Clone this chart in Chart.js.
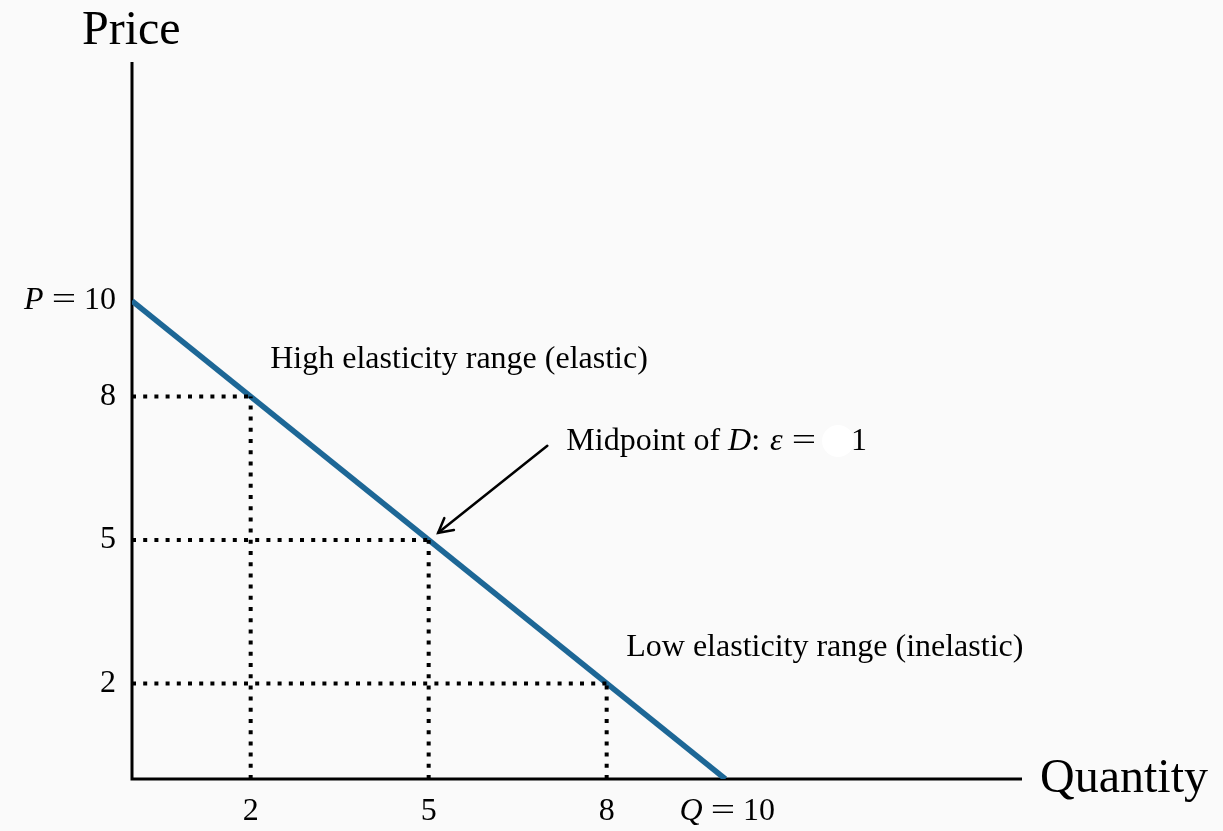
<!DOCTYPE html>
<html>
<head>
<meta charset="utf-8">
<script src="https://cdn.jsdelivr.net/npm/chart.js@4.4.1/dist/chart.umd.min.js"></script>
<style>
  html, body { margin: 0; padding: 0; background: #fafafa; }
  #wrap { width: 1223px; height: 831px; position: relative; }
</style>
</head>
<body>
<div id="wrap"><canvas id="c" width="1223" height="831"></canvas></div>
<script>
// Linear demand curve D: P = 10 - Q
const demandQ = [0, 10];
const demandP = [10, 0];

// Reference points marked on the curve
const markQ = [2, 5, 8];
const markP = [8, 5, 2];

// Axis tick labels
const xTickValues = [2, 5, 8, 10];
const xTickLabels = ['2', '5', '8', 'Q = 10'];
const yTickValues = [8, 5, 2, 10];
const yTickLabels = ['8', '5', '2', 'P = 10'];

const axisMax = 15;
const SERIF = '"Liberation Serif", "DejaVu Serif", serif';
const BLUE = '#1d6796';
const FS = 32;
const EQ_STRETCH = 1.35;   // wider math-style equals sign

// Dotted guides from each marked point down to the axes
const guideSets = [];
markQ.forEach((q, i) => {
  const p = markP[i];
  guideSets.push({ data: [{x: 0, y: p}, {x: q, y: p}] });
  guideSets.push({ data: [{x: q, y: 0}, {x: q, y: p}] });
});

const datasets = guideSets.map(g => ({
  data: g.data,
  showLine: true,
  borderColor: '#000',
  borderWidth: 4,
  borderDash: [4, 7.2],
  borderCapStyle: 'butt',
  pointRadius: 0,
  fill: false
}));
datasets.push({
  data: demandQ.map((q, i) => ({x: q, y: demandP[i]})),
  showLine: true,
  borderColor: BLUE,
  borderWidth: 5.5,
  pointRadius: 0,
  fill: false
});

// parts: [text, italic, gapAfter]; '=' is drawn horizontally stretched
function partWidth(ctx, t, it, size) {
  ctx.font = (it ? 'italic ' : '') + size + 'px ' + SERIF;
  const w = ctx.measureText(t).width;
  return t === '=' ? w * EQ_STRETCH : w;
}
function drawMath(ctx, parts, x, y, size) {
  let cx = x;
  parts.forEach(([t, it, gap]) => {
    const w = partWidth(ctx, t, it, size);
    if (t === '=') {
      ctx.save();
      ctx.translate(cx, y);
      ctx.scale(EQ_STRETCH, 1);
      ctx.fillText(t, 0, 0);
      ctx.restore();
    } else {
      ctx.fillText(t, cx, y);
    }
    cx += w + (gap || 0);
  });
  return cx;
}
function mathWidth(ctx, parts, size) {
  let w = 0;
  parts.forEach(([t, it, gap]) => { w += partWidth(ctx, t, it, size) + (gap || 0); });
  return w;
}
function labelParts(lab) {
  const m = lab.match(/^([PQ]) = (.*)$/);
  if (!m) return [[lab, false, 0]];
  return [[m[1], true, 8], ['=', false, 8], [m[2], false, 0]];
}

const axesPlugin = {
  id: 'axesAndNotes',
  beforeDatasetsDraw(chart) {
    const ctx = chart.ctx;
    const xs = chart.scales.x, ys = chart.scales.y;
    const x0 = xs.getPixelForValue(0), y0 = ys.getPixelForValue(0);
    const xEnd = xs.getPixelForValue(axisMax), yEnd = ys.getPixelForValue(axisMax);
    ctx.save();
    ctx.strokeStyle = '#000';
    ctx.lineWidth = 3;
    ctx.beginPath();
    ctx.moveTo(x0, yEnd);
    ctx.lineTo(x0, y0);
    ctx.lineTo(xEnd, y0);
    ctx.stroke();
    ctx.restore();
  },
  afterDatasetsDraw(chart) {
    const ctx = chart.ctx;
    const xs = chart.scales.x, ys = chart.scales.y;
    const x0 = xs.getPixelForValue(0), y0 = ys.getPixelForValue(0);
    ctx.save();
    ctx.fillStyle = '#000';
    ctx.textBaseline = 'middle';
    ctx.textAlign = 'left';

    // x tick labels
    xTickValues.forEach((v, i) => {
      const parts = labelParts(xTickLabels[i]);
      const px = xs.getPixelForValue(v);
      const w = mathWidth(ctx, parts, FS);
      drawMath(ctx, parts, px - w / 2 + (parts.length > 1 ? 2 : 0), y0 + 33, FS);
    });
    // y tick labels
    yTickValues.forEach((v, i) => {
      const parts = labelParts(yTickLabels[i]);
      const py = ys.getPixelForValue(v);
      const w = mathWidth(ctx, parts, FS);
      drawMath(ctx, parts, x0 - 16 - w, py, FS);
    });

    // axis titles
    ctx.font = '48px ' + SERIF;
    ctx.fillText('Price', 82, 31);
    ctx.fillText('Quantity', 1040, 779);

    // range notes
    ctx.font = FS + 'px ' + SERIF;
    ctx.fillText('High elasticity range (elastic)', xs.getPixelForValue(2.33), ys.getPixelForValue(8.77));
    ctx.fillText('Low elasticity range (inelastic)', xs.getPixelForValue(8.33), ys.getPixelForValue(2.74));

    // midpoint note
    const mx = xs.getPixelForValue(7.32), my = ys.getPixelForValue(7.05);
    const endX = drawMath(ctx, [['Midpoint of ', false, 0], ['D', true, 0], [': ', false, 2], ['\u03b5', true, 9], ['=', false, 0]], mx, my, FS);
    ctx.fillStyle = '#ffffff';
    ctx.beginPath();
    ctx.arc(endX + 22, my - 1, 16, 0, Math.PI * 2);
    ctx.fill();
    ctx.fillStyle = '#000';
    ctx.font = FS + 'px ' + SERIF;
    ctx.fillText('1', endX + 35, my);

    // arrow to the midpoint
    const ax1 = xs.getPixelForValue(7.0), ay1 = ys.getPixelForValue(6.97);
    const ax2 = xs.getPixelForValue(5.16), ay2 = ys.getPixelForValue(5.15);
    ctx.strokeStyle = '#000';
    ctx.lineWidth = 2.5;
    ctx.lineCap = 'round';
    ctx.beginPath();
    ctx.moveTo(ax1, ay1);
    ctx.lineTo(ax2, ay2);
    ctx.stroke();
    const ang = Math.atan2(ay2 - ay1, ax2 - ax1);
    const hl = 16, ha = 0.5;
    ctx.beginPath();
    ctx.moveTo(ax2 - hl * Math.cos(ang - ha), ay2 - hl * Math.sin(ang - ha));
    ctx.lineTo(ax2, ay2);
    ctx.lineTo(ax2 - hl * Math.cos(ang + ha), ay2 - hl * Math.sin(ang + ha));
    ctx.stroke();
    ctx.restore();
  }
};

new Chart(document.getElementById('c'), {
  type: 'scatter',
  data: { datasets },
  options: {
    responsive: false,
    animation: false,
    layout: { padding: { left: 132, right: 201, top: 62, bottom: 52 } },
    plugins: { legend: { display: false }, tooltip: { enabled: false } },
    scales: {
      x: { type: 'linear', min: 0, max: axisMax, display: false },
      y: { type: 'linear', min: 0, max: axisMax, display: false }
    }
  },
  plugins: [axesPlugin]
});
</script>
</body>
</html>
